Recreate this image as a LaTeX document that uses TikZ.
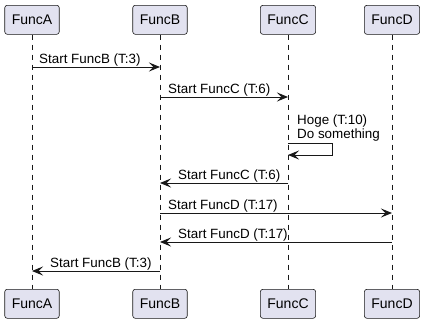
\documentclass[tikz,border=0pt]{standalone}
\usepackage{fontspec}
\setmainfont{Liberation Sans}
\usetikzlibrary{arrows.meta}
\definecolor{pbox}{HTML}{E2E2F0}
\definecolor{pline}{HTML}{181818}

\begin{document}
\begin{tikzpicture}[x=1pt,y=-1pt,
  participant/.style={draw=pline, fill=pbox, rounded corners=2.5pt, line width=0.6pt,
    minimum height=29pt, inner xsep=7pt, inner ysep=0pt,
    font=\fontsize{14}{16}\selectfont},
  lifeline/.style={draw=pline, dash pattern=on 5pt off 5pt, line width=0.5pt},
  msg/.style={draw=pline, line width=1pt, -{Stealth[length=11pt,width=9pt,inset=4.5pt]}},
  selfmsg/.style={msg, rounded corners=0pt},
  lbl/.style={font=\fontsize{13.4}{14}\selectfont, inner sep=0pt, anchor=base west},
]
\useasboundingbox (0,0) rectangle (425,324);
\fill[white] (0,0) rectangle (425,324);

% participants, top row
\node[participant, anchor=north] (tA) at (32,5)  {FuncA};
\node[participant, anchor=north] (tB) at (160,5) {FuncB};
\node[participant, anchor=north] (tC) at (288,5) {FuncC};
\node[participant, anchor=north] (tD) at (392,5) {FuncD};

% participants, bottom row
\node[participant, anchor=north] (bA) at (32,289)  {FuncA};
\node[participant, anchor=north] (bB) at (160,289) {FuncB};
\node[participant, anchor=north] (bC) at (288,289) {FuncC};
\node[participant, anchor=north] (bD) at (392,289) {FuncD};

% lifelines
\draw[lifeline] (tA.south) -- (bA.north);
\draw[lifeline] (tB.south) -- (bB.north);
\draw[lifeline] (tC.south) -- (bC.north);
\draw[lifeline] (tD.south) -- (bD.north);

% message rows
\coordinate (m1) at (0,67);
\coordinate (m2) at (0,97);
\coordinate (m3a) at (0,143);
\coordinate (m3b) at (0,155);
\coordinate (m4) at (0,183);
\coordinate (m5) at (0,213);
\coordinate (m6) at (0,242);
\coordinate (m7) at (0,271);
\coordinate (loopx) at (332,0);

% messages
\draw[msg] (tA |- m1) -- (tB |- m1);
\node[lbl] (l1) at (39,63) {Start FuncB (T:3)};

\draw[msg] (tB |- m2) -- (tC |- m2);
\node[lbl] (l2) at (168,93) {Start FuncC (T:6)};

\draw[selfmsg] (tC |- m3a) -- (loopx |- m3a) -- (loopx |- m3b) -- (tC |- m3b);
\node[lbl] (l3a) at (297,124.5) {Hoge (T:10)};
\node[lbl] (l3b) at (297,138) {Do something};

\draw[msg] (tC |- m4) -- (tB |- m4);
\node[lbl] (l4) at (178,179) {Start FuncC (T:6)};

\draw[msg] (tB |- m5) -- (tD |- m5);
\node[lbl] (l5) at (168,209) {Start FuncD (T:17)};

\draw[msg] (tD |- m6) -- (tB |- m6);
\node[lbl] (l6) at (178,238) {Start FuncD (T:17)};

\draw[msg] (tB |- m7) -- (tA |- m7);
\node[lbl] (l7) at (50,267) {Start FuncB (T:3)};
\end{tikzpicture}
\end{document}
